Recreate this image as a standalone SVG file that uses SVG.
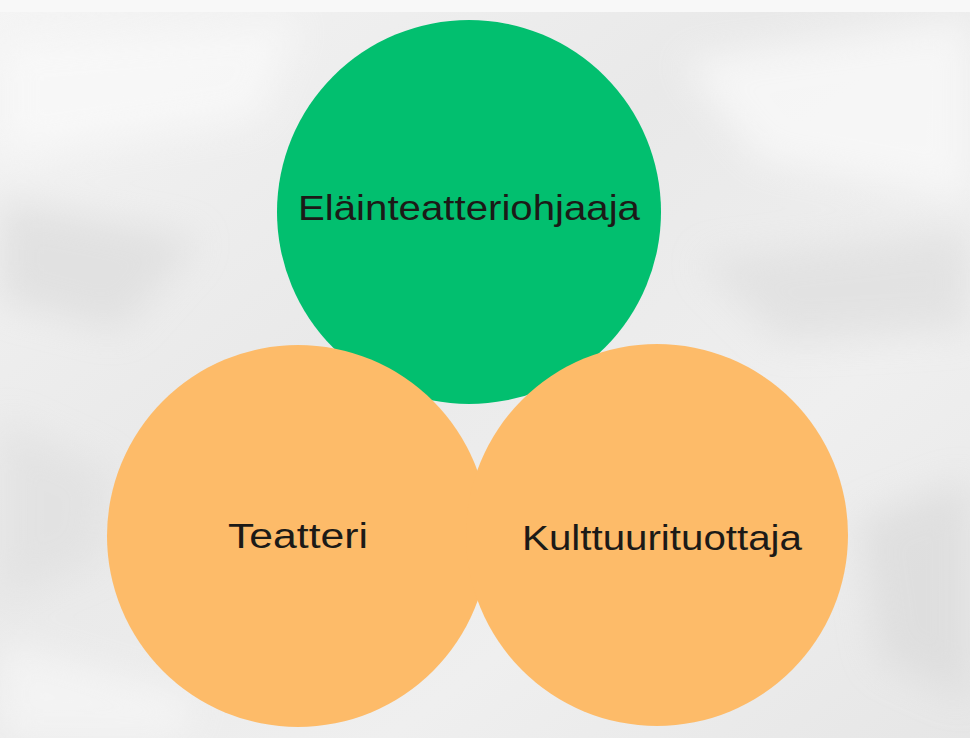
<svg xmlns="http://www.w3.org/2000/svg" width="970" height="738" viewBox="0 0 970 738">
  <defs>
    <linearGradient id="bg" x1="0" y1="0" x2="1" y2="1">
      <stop offset="0" stop-color="#f4f4f4"/>
      <stop offset="0.4" stop-color="#e9e9e9"/>
      <stop offset="0.7" stop-color="#efefef"/>
      <stop offset="1" stop-color="#e6e6e6"/>
    </linearGradient>
    <filter id="blur" x="-20%" y="-20%" width="140%" height="140%">
      <feGaussianBlur stdDeviation="18"/>
    </filter>
    <style>
      .green { fill: #02bf6f; }
      .orange { fill: #fdbb69; }
      .label { fill: #1c1a17; font-family: "Liberation Sans", Arial, sans-serif; font-size: 35px; text-anchor: middle; }
    </style>
  </defs>
  <rect width="970" height="738" fill="url(#bg)"/>
  <g filter="url(#blur)" opacity="0.7">
    <polygon points="0,40 300,20 260,120 0,160" fill="#fafafa"/>
    <polygon points="0,200 200,240 120,330 0,300" fill="#dcdcdc"/>
    <polygon points="680,60 970,20 970,200 760,160" fill="#fbfbfb"/>
    <polygon points="700,260 970,230 970,330 780,340" fill="#dedede"/>
    <polygon points="0,420 110,470 100,560 0,600" fill="#e0e0e0"/>
    <polygon points="860,520 970,480 970,700 880,660" fill="#dadada"/>
    <polygon points="0,640 200,700 180,738 0,738" fill="#f7f7f7"/>
  </g>
  <rect x="0" y="0" width="970" height="12" fill="#f8f8f8"/>
  <g id="node-elainteatteriohjaaja">
    <circle class="green" cx="469" cy="212" r="192"/>
    <text class="label" x="469" y="220" textLength="342" lengthAdjust="spacingAndGlyphs" font-size="38">Eläinteatteriohjaaja</text>
  </g>
  <g id="node-teatteri">
    <circle class="orange" cx="298" cy="536" r="191"/>
    <text class="label" x="298" y="548" textLength="140" lengthAdjust="spacingAndGlyphs">Teatteri</text>
  </g>
  <g id="node-kulttuurituottaja">
    <circle class="orange" cx="657" cy="535" r="191"/>
    <text class="label" x="662" y="550" textLength="280" lengthAdjust="spacingAndGlyphs">Kulttuurituottaja</text>
  </g>
  <g id="connectors"></g>
</svg>
